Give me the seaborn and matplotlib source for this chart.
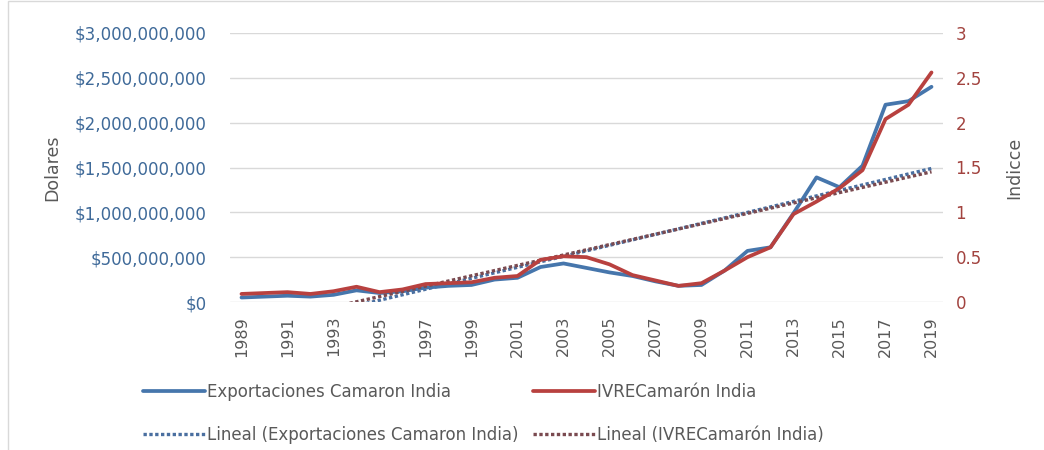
import numpy as np
import pandas as pd
import matplotlib
matplotlib.use("Agg")
import matplotlib.pyplot as plt
import matplotlib.ticker as mticker
from matplotlib.patches import Rectangle
import seaborn as sns

years = list(range(1989, 2020))
exports_usd = [50e6, 60e6, 70e6, 60e6, 80e6, 130e6, 100e6, 120e6, 160e6, 180e6,
               190e6, 250e6, 270e6, 390e6, 430e6, 380e6, 330e6, 290e6, 230e6, 180e6,
               190e6, 350e6, 570e6, 610e6, 990e6, 1390e6, 1280e6, 1520e6, 2200e6, 2240e6,
               2400e6]
ivre_index = [0.09, 0.10, 0.11, 0.09, 0.12, 0.17, 0.11, 0.14, 0.20, 0.21,
              0.22, 0.27, 0.29, 0.47, 0.51, 0.50, 0.42, 0.30, 0.24, 0.18,
              0.21, 0.35, 0.50, 0.61, 0.98, 1.12, 1.27, 1.47, 2.04, 2.20,
              2.56]
left_ticks = [0, 500e6, 1000e6, 1500e6, 2000e6, 2500e6, 3000e6]
right_ticks = [0, 0.5, 1, 1.5, 2, 2.5, 3]
right_labels = ["0", "0.5", "1", "1.5", "2", "2.5", "3"]
xtick_years = years[::2]

label_exp = "Exportaciones Camaron India"
label_ivre = "IVRECamarón India"
label_lin_exp = "Lineal (Exportaciones Camaron India)"
label_lin_ivre = "Lineal (IVRECamarón India)"

df = pd.DataFrame({"year": years, "exports": exports_usd, "ivre": ivre_index})

sns.set_theme(style="white")
plt.rcParams["font.family"] = ["DejaVu Sans"]

BLUE = "#4676AC"
RED = "#B8413F"
BLUE_TXT = "#3F6A99"
RED_TXT = "#A2433F"
GRAY = "#595959"
GRID = "#D9D9D9"

fig = plt.figure(figsize=(10.44, 4.5), dpi=100)
W, H = 1044, 450
ax = fig.add_axes([230 / W, 1 - 302 / H, (943 - 230) / W, (302 - 33) / H])
ax2 = ax.twinx()

dot = (0, (1, 0.75))
sns.regplot(data=df, x="year", y="exports", ax=ax, scatter=False, ci=None, truncate=True,
            line_kws=dict(color="#4A6FA0", lw=2.4, ls=dot))
sns.lineplot(data=df, x="year", y="exports", ax=ax, color=BLUE, lw=2.7)
sns.regplot(data=df, x="year", y="ivre", ax=ax2, scatter=False, ci=None, truncate=True,
            line_kws=dict(color="#7A4A50", lw=2.4, ls=dot))
sns.lineplot(data=df, x="year", y="ivre", ax=ax2, color=RED, lw=2.7)

ax.set_xlim(1988.5, 2019.5)
ax.set_ylim(0, 3000e6)
ax2.set_ylim(0, 3)
ax.set_yticks(left_ticks)
ax.yaxis.set_major_formatter(mticker.FuncFormatter(lambda v, p: f"${v:,.0f}"))
ax2.set_yticks(right_ticks)
ax2.set_yticklabels(right_labels)
ax.set_xticks(xtick_years)
ax.set_xticklabels([str(y) for y in xtick_years], rotation=90)

ax.grid(axis="y", color=GRID, lw=1)
ax.grid(axis="x", visible=False)
ax2.grid(False)
for a in (ax, ax2):
    for s in a.spines.values():
        s.set_visible(False)

ax.tick_params(axis="y", length=0, pad=17, labelsize=12, labelcolor=BLUE_TXT)
ax2.tick_params(axis="y", length=0, pad=9, labelsize=12, labelcolor=RED_TXT)
ax.tick_params(axis="x", length=0, pad=10, labelsize=11.5, labelcolor=GRAY)

ax.set_xlabel("")
ax.set_ylabel("Dolares", fontsize=12.5, color=GRAY)
ax2.set_ylabel("Indicce", fontsize=12.5, color=GRAY)
ax.yaxis.set_label_coords(-0.237, 0.5)
ax2.yaxis.set_label_coords(1.087, 0.5)

h_exp = ax.lines[1]
h_lin_exp = ax.lines[0]
h_ivre = ax2.lines[1]
h_lin_ivre = ax2.lines[0]
fig.legend([h_exp, h_lin_exp, h_ivre, h_lin_ivre],
           [label_exp, label_lin_exp, label_ivre, label_lin_ivre],
           ncol=2, loc="upper left", bbox_to_anchor=(143 / W, 1 - 383 / H),
           bbox_transform=fig.transFigure, frameon=False, borderpad=0, borderaxespad=0,
           fontsize=12, handlelength=3.7, handletextpad=0.15, columnspacing=0.85,
           labelspacing=1.5, labelcolor=GRAY)

fig.patches.append(Rectangle((8 / W, -0.1), 1.2, 449 / H + 0.1, transform=fig.transFigure,
                             fill=False, ec=GRID, lw=1))

fig.savefig("out.png", dpi=100)
